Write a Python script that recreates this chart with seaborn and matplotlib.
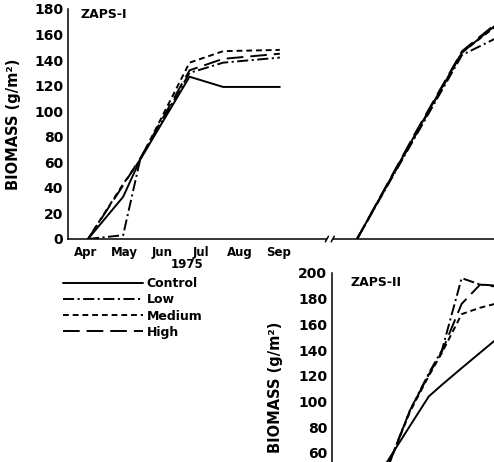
import matplotlib
matplotlib.use("Agg")
import matplotlib.pyplot as plt
import matplotlib.transforms as mtransforms
from matplotlib.lines import Line2D
import pandas as pd
import seaborn as sns

# ---------------- data (x = months after 1 April) ----------------
treatments = ["Control", "Low", "Medium", "High"]
month_labels = ["Apr", "May", "Jun", "Jul", "Aug", "Sep"]
month_centers = [0.5, 1.5, 2.5, 3.5, 4.5, 5.5]
year_label = "1975"

zaps1_1975_t = [0.57, 1.48, 1.92, 3.20, 4.07, 5.54]
zaps1_1975_control = [0, 33, 62, 127, 119, 119]
zaps1_1975_low = [0, 3, 62, 130, 138, 142]
zaps1_1975_medium = [0, 43, 62, 138, 147, 148]
zaps1_1975_high = [0, 42, 63, 132, 141, 145]

zaps1_1976_t = [0.69, 2.20, 3.41, 4.35]
zaps1_1976_control = [0, 82, 146, 169]
zaps1_1976_low = [0, 80, 144, 158]
zaps1_1976_medium = [0, 81, 146, 168]
zaps1_1976_high = [0, 83, 147, 170]

zaps2_1976_t = [1.30, 2.06, 2.55, 2.89, 3.40, 3.88, 4.40]
zaps2_1976_control = [45, 81, 104, 113, 126, 138, 151]
zaps2_1976_low = [35, 93, 122, 140, 196, 191, 190]
zaps2_1976_medium = [35, 92, 120, 138, 168, 173, 177]
zaps2_1976_high = [35, 93, 121, 139, 176, 191, 189]

YEAR2_OFFSET = 6.85  # position of 1 April of the second season on the broken axis


def long_df(t, control, low, medium, high, offset=0.0):
    rows = []
    for name, vals in zip(treatments, [control, low, medium, high]):
        for x, v in zip(t, vals):
            rows.append((x + offset, v, name))
    return pd.DataFrame(rows, columns=["month", "biomass", "treatment"])


df1 = long_df(zaps1_1975_t, zaps1_1975_control, zaps1_1975_low,
              zaps1_1975_medium, zaps1_1975_high)
df1b = long_df(zaps1_1976_t, zaps1_1976_control, zaps1_1976_low,
               zaps1_1976_medium, zaps1_1976_high, YEAR2_OFFSET)
df2 = long_df(zaps2_1976_t, zaps2_1976_control, zaps2_1976_low,
              zaps2_1976_medium, zaps2_1976_high)

# ---------------- style ----------------
sns.set_theme(style="white")
plt.rcParams["font.family"] = ["DejaVu Sans"]
plt.rcParams["font.weight"] = "bold"
plt.rcParams["lines.scale_dashes"] = False
plt.rcParams["axes.linewidth"] = 1.1
for key in ("text.color", "axes.labelcolor", "xtick.color", "ytick.color",
            "axes.edgecolor"):
    plt.rcParams[key] = "black"

dash_map = {"Control": "", "Low": (8, 2.5, 1.5, 2.5),
            "Medium": (4.2, 2.8), "High": (12, 5)}
LW = 1.4

W, H = 494, 462
fig = plt.figure(figsize=(W / 100, H / 100), dpi=100)
fig.patch.set_facecolor("white")

X0, PPM = 66, 38.6  # pixel of 1 April, pixels per month


def px2m(px):
    return (px - X0) / PPM


# top panel (ZAPS-I)
ax1 = fig.add_axes([68 / W, (H - 239) / H, (600 - 68) / W, 230 / H])
ax1.set_facecolor("none")
for d in (df1, df1b):
    sns.lineplot(data=d, x="month", y="biomass", style="treatment",
                 style_order=treatments, dashes=dash_map, color="black",
                 linewidth=LW, estimator=None, sort=False, legend=False, ax=ax1)
ax1.set_xlim(px2m(68), px2m(600))
ax1.set_ylim(0, 180)
ax1.set_yticks(range(0, 181, 20))
major = [1, 2, 3, 4, 5, 6] + [YEAR2_OFFSET + k for k in range(1, 6)]
ax1.set_xticks(major)
ax1.set_xticklabels([])
ax1.set_xticks(month_centers, minor=True)
ax1.set_xticklabels(month_labels, minor=True, fontsize=8.5, fontweight="bold")
ax1.tick_params(axis="x", which="major", direction="in", length=3.5, width=1.1)
ax1.tick_params(axis="x", which="minor", length=0, pad=5)
ax1.tick_params(axis="y", direction="out", length=2.5, width=1.1, pad=1,
                labelsize=10)
for lab in ax1.get_yticklabels():
    lab.set_fontweight("bold")
ax1.set_xlabel("")
ax1.set_ylabel("BIOMASS (g/m²)", fontsize=10.5, fontweight="bold")
ax1.yaxis.set_label_coords((21 - 68) / 532, 0.5)
ax1.spines["top"].set_visible(False)
ax1.spines["right"].set_visible(False)

# axis break on the bottom spine
tr = mtransforms.blended_transform_factory(ax1.transData, ax1.transAxes)
bx1, bx2 = YEAR2_OFFSET - 0.09, YEAR2_OFFSET + 0.06
ax1.plot([bx1, bx2], [0, 0], color="white", lw=3, transform=tr,
         clip_on=False, zorder=5, solid_capstyle="butt")
for bx in (bx1, bx2):
    ax1.plot([bx - 0.04, bx + 0.04], [-0.012, 0.012], color="black", lw=1.1,
             transform=tr, clip_on=False, zorder=6)

# bottom panel (ZAPS-II)
ax2 = fig.add_axes([332 / W, (H - 530) / H, (600 - 332) / W, 257 / H])
ax2.set_facecolor("none")
sns.lineplot(data=df2, x="month", y="biomass", style="treatment",
             style_order=treatments, dashes=dash_map, color="black",
             linewidth=LW, estimator=None, sort=False, legend=False, ax=ax2)
ax2.set_xlim(px2m(332) - YEAR2_OFFSET, px2m(600) - YEAR2_OFFSET)
ax2.set_ylim(0, 200)
ax2.set_yticks(range(60, 201, 20))
ax2.set_xticks([])
ax2.tick_params(axis="y", direction="out", length=2.5, width=1.1, pad=1,
                labelsize=10)
for lab in ax2.get_yticklabels():
    lab.set_fontweight("bold")
ax2.set_xlabel("")
ax2.set_ylabel("BIOMASS (g/m²)", fontsize=10.5, fontweight="bold")
ax2.yaxis.set_label_coords((283 - 332) / 268, (530 - 387) / 257)
for s in ("top", "right", "bottom"):
    ax2.spines[s].set_visible(False)

# texts
fig.text(80 / W, 1 - 15 / H, "ZAPS-I", fontsize=9, fontweight="bold",
         va="center", ha="left")
fig.text(350 / W, 1 - 283 / H, "ZAPS-II", fontsize=9, fontweight="bold",
         va="center", ha="left")
fig.text(187 / W, 1 - 265 / H, year_label, fontsize=8.5, fontweight="bold",
         va="center", ha="center")

# legend
handles = [Line2D([], [], color="black", lw=LW, linestyle="-")]
for name in treatments[1:]:
    h = Line2D([], [], color="black", lw=LW)
    h.set_dashes(dash_map[name])
    handles.append(h)
fig.legend(handles, treatments, loc="upper left",
           bbox_to_anchor=(63 / W, 1 - 277 / H), frameon=False,
           prop={"size": 9, "weight": "bold"}, handlelength=6.4,
           handletextpad=0.3, labelspacing=0.26, borderpad=0,
           borderaxespad=0)

fig.savefig("out.png", dpi=100, facecolor="white")
